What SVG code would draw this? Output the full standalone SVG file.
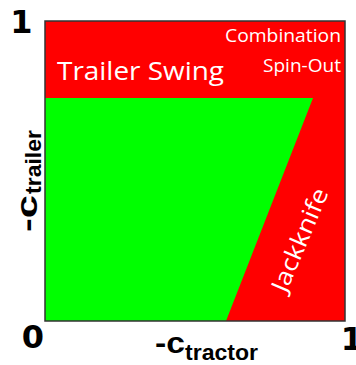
<svg xmlns="http://www.w3.org/2000/svg" width="356" height="365" viewBox="0 0 356 365">
<style>
.lbl{font-family:"Open Sans","Liberation Sans",sans-serif;fill:#fff}
.ax{font-family:"Liberation Sans",Arial,sans-serif;font-weight:bold;fill:#000}
.num{font-family:"DejaVu Sans",sans-serif;font-weight:bold;fill:#000;font-size:32px;text-anchor:middle}
</style>
<rect width="356" height="365" fill="#fff"/>
<g id="region-red">
<rect x="45" y="21" width="300" height="300" fill="#ff0000"/>
</g>
<g id="region-green">
<polygon points="45,98 313,98 226,321 45,321" fill="#00ff00"/>
</g>
<g id="frame">
<rect x="45" y="21" width="300" height="300" fill="none" stroke="#333" stroke-width="1.5"/>
</g>
<g id="labels">
<text class="lbl" x="57" y="80" font-size="26" textLength="167" lengthAdjust="spacingAndGlyphs">Trailer Swing</text>
<text class="lbl" x="225" y="42" font-size="18" textLength="116" lengthAdjust="spacingAndGlyphs">Combination</text>
<text class="lbl" x="263" y="72" font-size="18" textLength="78" lengthAdjust="spacingAndGlyphs">Spin-Out</text>
<text class="lbl" transform="translate(300,240) rotate(-67)" x="0" y="8" font-size="24" text-anchor="middle" textLength="110" lengthAdjust="spacingAndGlyphs">Jackknife</text>
</g>
<g id="axes">
<text class="num" x="21.5" y="33">1</text>
<text class="num" x="33" y="348">0</text>
<text class="num" x="352" y="350">1</text>
<text class="ax" x="155" y="353" font-size="30" textLength="30" lengthAdjust="spacingAndGlyphs">-c</text>
<text class="ax" x="185" y="360" font-size="22" textLength="73" lengthAdjust="spacingAndGlyphs">tractor</text>
<text class="ax" transform="translate(37,232) rotate(-90)" font-size="30" textLength="37" lengthAdjust="spacingAndGlyphs">-c</text>
<text class="ax" transform="translate(41,194) rotate(-90)" font-size="22" textLength="64" lengthAdjust="spacingAndGlyphs">trailer</text>
</g>
</svg>
